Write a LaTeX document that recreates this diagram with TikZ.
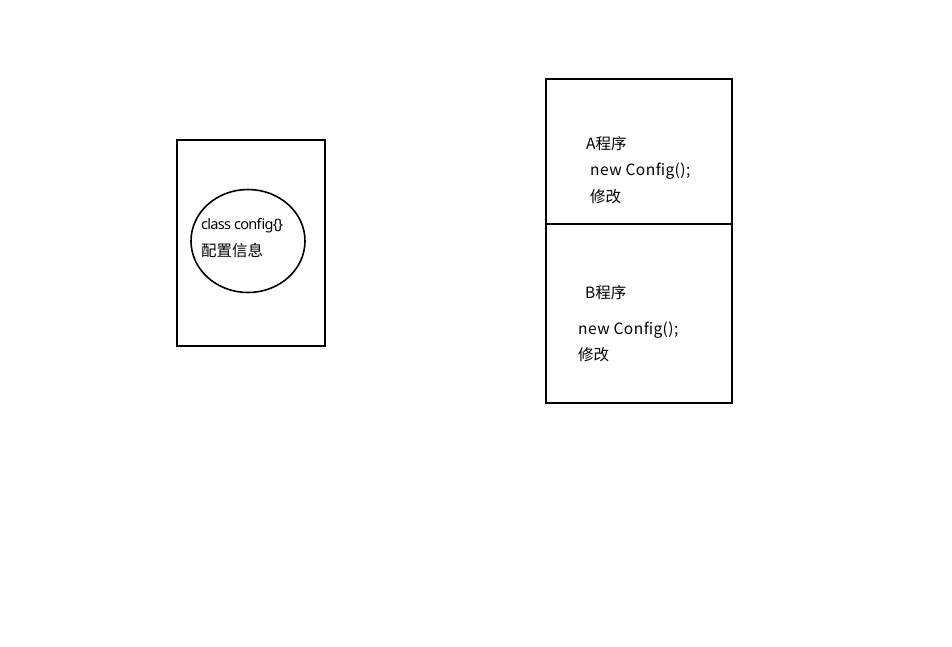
\documentclass[tikz,border=0pt]{standalone}
\usepackage{fontspec}
\usetikzlibrary{shapes.geometric}
\setmainfont{Noto Sans CJK SC}
\newfontfamily\latinfont{Noto Sans}
\begin{document}
\begin{tikzpicture}[x=1pt,y=-1pt,
  box/.style={draw=black,line width=2pt},
  lbl/.style={anchor=base west,inner sep=0pt,font=\fontsize{15.5}{18}\selectfont},
  wide/.style={lbl,font=\fontsize{15.5}{18}\selectfont\addfontfeatures{LetterSpace=3}}]
\useasboundingbox (0,0) rectangle (952,646);
\draw[box] (177,140) rectangle (325,346);
\node[draw=black,line width=1.6pt,ellipse,minimum width=114pt,minimum height=103pt,inner sep=0pt] (circ) at (248,241) {};
\node[lbl,font=\fontsize{14.5}{18}\selectfont\latinfont\addfontfeatures{LetterSpace=-5}] (t1) at (201,229) {class config\{\}};
\node[lbl] (t2) at (201,256) {配置信息};
\draw[box] (546,79) rectangle (732,403);
\draw[box] (546,224) -- (732,224);
\node[lbl] (a1) at (586,149) {A程序};
\node[wide] (a2) at (590,175) {new Config();};
\node[lbl] (a3) at (590,202) {修改};
\node[lbl] (b1) at (585,298) {B程序};
\node[wide] (b2) at (578,334) {new Config();};
\node[lbl] (b3) at (578,360) {修改};
\end{tikzpicture}
\end{document}
